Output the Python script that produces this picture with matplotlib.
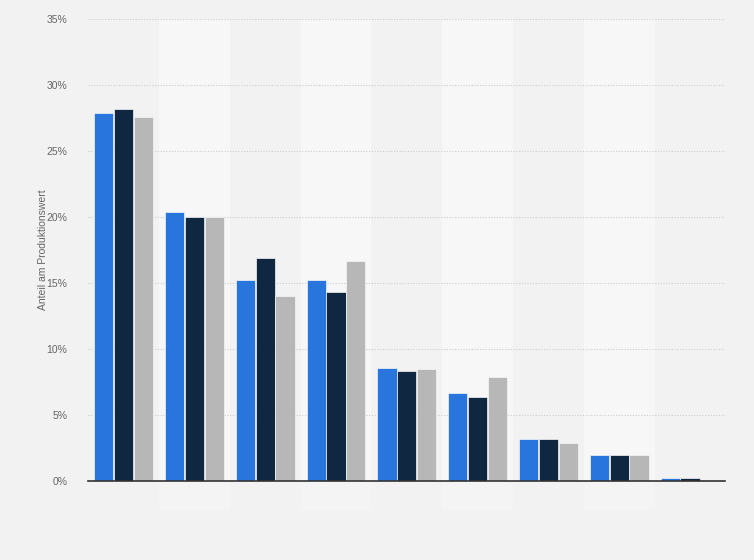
import matplotlib.pyplot as plt
import numpy as np

groups = ["1", "2", "3", "4", "5", "6", "7", "8", "9"]
serie_a = [27.9, 20.4, 15.2, 15.2, 8.6, 6.7, 3.2, 2.0, 0.2]
serie_b = [28.2, 20.0, 16.9, 14.3, 8.3, 6.4, 3.2, 2.0, 0.2]
serie_c = [27.6, 20.0, 14.0, 16.7, 8.5, 7.9, 2.9, 2.0, 0.0]
yticks = [0, 5, 10, 15, 20, 25, 30, 35]

plt.rcParams['font.family'] = ['Liberation Sans', 'DejaVu Sans']

bg = "#f2f2f2"
fig = plt.figure(figsize=(7.54, 5.6), dpi=100, facecolor=bg)
ax = fig.add_axes([0.117, 0.141, 0.845, 0.825], facecolor=bg)

x = np.arange(len(groups))
for i in x:
    if i % 2 == 1:
        # lighter band inside the plot, fainter one below the axis
        ax.axvspan(i - 0.5, i + 0.5, ymin=0, ymax=1, color="#f7f7f7", zorder=0, lw=0)
        ax.axvspan(i - 0.5, i + 0.5, ymin=-0.063, ymax=0, color="#f4f4f4",
                   zorder=0, clip_on=False, lw=0)

w = 0.27
ax.bar(x - w - 0.01, serie_a, w, color="#2876dd", edgecolor="#f6f6f6", lw=0.5, zorder=3)
ax.bar(x, serie_b, w, color="#0f2741", edgecolor="#f6f6f6", lw=0.5, zorder=3)
ax.bar(x + w + 0.01, serie_c, w, color="#b7b7b7", edgecolor="#f6f6f6", lw=0.5, zorder=3)

ax.set_xlim(-0.5, len(groups) - 0.5)
ax.set_ylim(0, 35)
ax.set_yticks(yticks)
ax.set_yticklabels([f"{t}%" for t in yticks], fontsize=7.5, color="#666666")
ax.set_xticks([])
ax.grid(axis="y", color="#cccccc", ls=(0, (1, 1.5)), lw=0.8, zorder=1)
ax.tick_params(axis="y", length=0, pad=15)
for s in ["top", "right", "left"]:
    ax.spines[s].set_visible(False)
ax.spines["bottom"].set_color("#333333")
ax.spines["bottom"].set_linewidth(1.2)
ax.spines["bottom"].set_zorder(4)
ax.set_ylabel("Anteil am Produktionswert", fontsize=7.5, color="#666666", labelpad=-1)

fig.savefig("out.png", dpi=100, facecolor=bg)
